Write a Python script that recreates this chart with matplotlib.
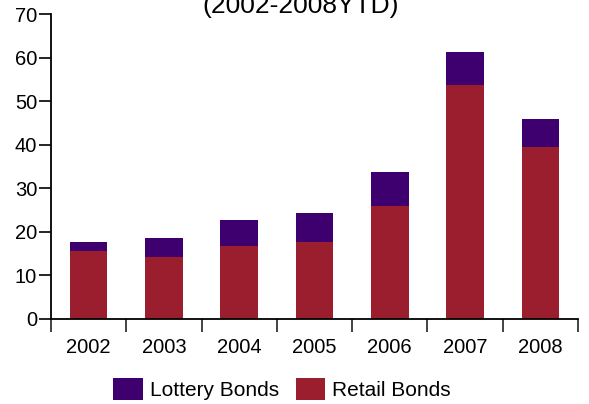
import matplotlib
matplotlib.use('Agg')
import matplotlib.pyplot as plt
import numpy as np

plt.rcParams['font.family'] = ['Liberation Sans', 'DejaVu Sans']

years = ['2002', '2003', '2004', '2005', '2006', '2007', '2008']
retail = [15.6, 14.2, 16.8, 17.7, 26.0, 53.8, 39.5]
lottery = [2.1, 4.4, 5.9, 6.7, 7.8, 7.5, 6.4]

fig = plt.figure(figsize=(5.89, 4.04), dpi=100)
ax = fig.add_axes([0.0866, 0.2104, 0.8947, 0.7542])

x = np.arange(len(years))
ax.bar(x, retail, width=0.5, color='#9B1E2F', label='Retail Bonds')
ax.bar(x, lottery, width=0.5, bottom=retail, color='#3E006E', label='Lottery Bonds')

ax.set_xlim(-0.5, len(years) - 0.5)
ax.set_ylim(0, 70)
ax.set_yticks(range(0, 71, 10))
ax.set_xticks(x)
ax.set_xticklabels(years)
ax.set_xticks(np.arange(-0.5, len(years), 1), minor=True)
ax.tick_params(axis='x', which='major', length=0, pad=14, labelsize=14.5)
ax.tick_params(axis='x', which='minor', length=9, width=1.2, color='#222222')
ax.tick_params(axis='y', length=9, width=1.2, pad=1, labelsize=14.5)

for s in ['top', 'right']:
    ax.spines[s].set_visible(False)
for s in ['left', 'bottom']:
    ax.spines[s].set_linewidth(1.3)

fig.text(301 / 589, 1 - 13.5 / 404, '(2002-2008YTD)', ha='center', va='baseline', fontsize=19)

h, l = ax.get_legend_handles_labels()
fig.legend(h[::-1], l[::-1], loc='center', bbox_to_anchor=(0.479, 1 - 389 / 404), ncol=2,
           frameon=False, fontsize=15, handlelength=1.4, handleheight=1.25,
           handletextpad=0.35, columnspacing=0.8)

fig.savefig('out.png', dpi=100)
